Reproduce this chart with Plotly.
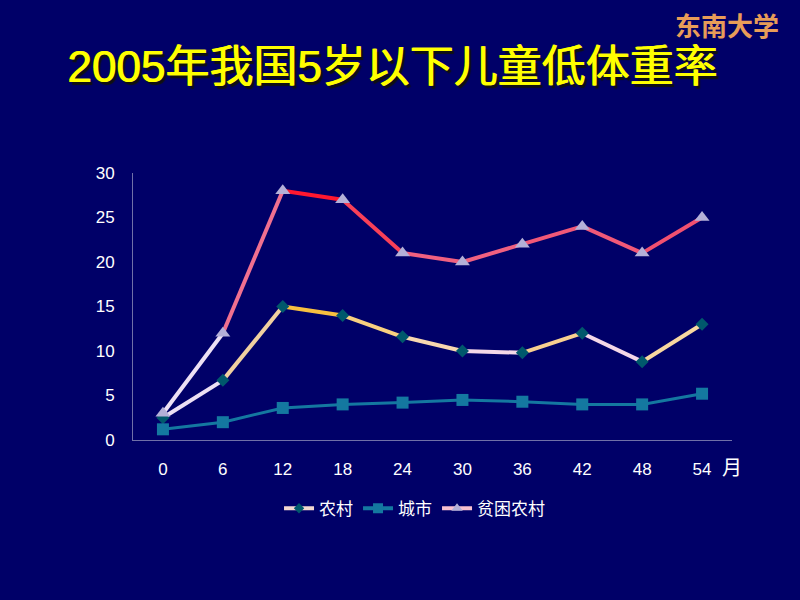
import plotly.graph_objects as go

# months of age
months = ["0", "6", "12", "18", "24", "30", "36", "42", "48", "54"]
rural = [2.5, 6.7, 15.0, 14.0, 11.6, 10.0, 9.8, 12.0, 8.8, 13.0]
city = [1.2, 2.0, 3.6, 4.0, 4.2, 4.5, 4.3, 4.0, 4.0, 5.2]
poor_rural = [3.0, 12.0, 28.0, 27.0, 21.0, 20.0, 22.0, 24.0, 21.0, 25.0]

BG = "#000068"
FONT = "Liberation Sans, Noto Sans CJK SC, Arial, sans-serif"

# per-segment colours to mimic the gradient lines of the original slide
rural_seg = ["#ece0f4", "#f0d0a0", "#f8c040", "#f8d080", "#f8d8b0",
             "#f4d8e8", "#f8d090", "#f4d8e8", "#f8d8a0"]
poor_seg = ["#ece0f4", "#f07090", "#ff1830", "#f84058", "#f06080",
            "#f06080", "#f05878", "#f05878", "#f05070"]
city_color = "#1478a0"

fig = go.Figure()


def add_segments(values, colors, width):
    for i in range(len(values) - 1):
        fig.add_trace(go.Scatter(
            x=months[i:i + 2], y=values[i:i + 2], mode="lines",
            line=dict(color=colors[i], width=width),
            showlegend=False, hoverinfo="skip"))


add_segments(rural, rural_seg, 4)
add_segments(poor_rural, poor_seg, 4)
fig.add_trace(go.Scatter(x=months, y=city, mode="lines", line=dict(color=city_color, width=3),
                         showlegend=False, hoverinfo="skip"))

# markers
fig.add_trace(go.Scatter(x=months, y=rural, mode="markers", name="农村", showlegend=False,
                         marker=dict(symbol="diamond", size=10, color="#00586c")))
fig.add_trace(go.Scatter(x=months, y=city, mode="markers", name="城市", showlegend=False,
                         marker=dict(symbol="square", size=12, color=city_color)))
fig.add_trace(go.Scatter(x=months, y=poor_rural, mode="markers", name="贫困农村", showlegend=False,
                         marker=dict(symbol="triangle-up", size=13, color="#b4b0d8")))

# legend entries
fig.add_trace(go.Scatter(x=[None], y=[None], mode="lines+markers", name="农村",
                         line=dict(color="#f4d8d0", width=4),
                         marker=dict(symbol="diamond", size=8, color="#00586c")))
fig.add_trace(go.Scatter(x=[None], y=[None], mode="lines+markers", name="城市",
                         line=dict(color=city_color, width=4),
                         marker=dict(symbol="square", size=10, color=city_color)))
fig.add_trace(go.Scatter(x=[None], y=[None], mode="lines+markers", name="贫困农村",
                         line=dict(color="#f8c0d0", width=4),
                         marker=dict(symbol="triangle-up", size=10, color="#b4b0d8")))

fig.update_layout(
    width=800, height=600,
    paper_bgcolor=BG, plot_bgcolor=BG,
    margin=dict(l=133, r=68, t=173, b=160),
    font=dict(family=FONT, color="white", size=17),
    showlegend=True,
    legend=dict(orientation="h", x=0.47, xanchor="center", y=-0.19, yanchor="top",
                font=dict(size=17, color="white"), itemwidth=30, bgcolor="rgba(0,0,0,0)"),
    xaxis=dict(type="category", range=[-0.5, 9.5], showgrid=False, zeroline=False,
               showline=True, linecolor="#7070a8", linewidth=1, ticks="",
               ticklabelstandoff=14, tickfont=dict(size=17, color="white")),
    yaxis=dict(range=[0, 30], dtick=5, showgrid=False, zeroline=False,
               showline=True, linecolor="#7070a8", linewidth=1, ticks="",
               ticklabelstandoff=14, tickfont=dict(size=17, color="white")),
)

title = "2005年我国5岁以下儿童低体重率"
fig.add_annotation(text=title, xref="paper", yref="paper",
                   x=(392 - 133) / 599, y=(440 - 67) / 267,
                   xanchor="center", yanchor="middle", showarrow=False,
                   font=dict(size=44, color="#ffff00", family=FONT,
                             shadow="1px 0px 0px #ffff00, 3px 3px 1px #101010"))
fig.add_annotation(text="月", xref="paper", yref="paper",
                   x=(732 - 133) / 599, y=(440 - 468) / 267, xanchor="center", yanchor="middle",
                   showarrow=False, font=dict(size=20, color="white", family=FONT))
fig.add_annotation(text="东南大学", xref="paper", yref="paper",
                   x=(727 - 133) / 599, y=(440 - 24) / 267, xanchor="center", yanchor="middle",
                   showarrow=False,
                   font=dict(size=26, color="#e89c58", family="Noto Sans CJK SC, serif", weight="bold"))

fig.write_html("out.html", config={"displayModeBar": False},
               post_script="document.body.style.margin='0';document.body.style.background='#000068';")
